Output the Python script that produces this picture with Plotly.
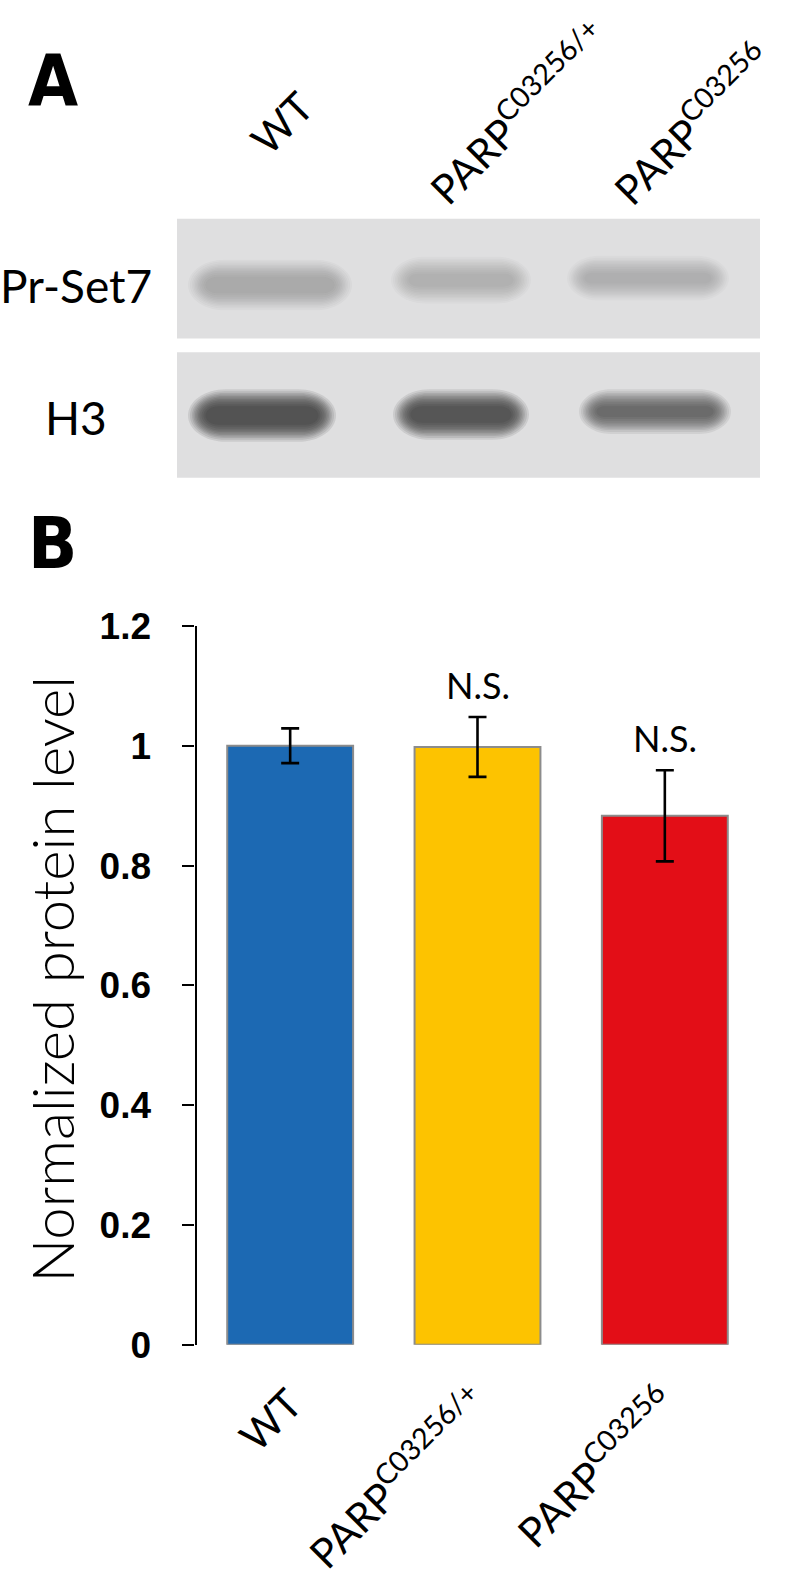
import plotly.graph_objects as go

W, H = 787, 1586

# ---------------- data ----------------
categories = ["WT", "PARP<sup>C03256/+</sup>", "PARP<sup>C03256</sup>"]
values = [1.0, 0.998, 0.883]
errors = [0.029, 0.050, 0.076]
significance = ["", "N.S.", "N.S."]
y_tickvals = [0, 0.2, 0.4, 0.6, 0.8, 1.0, 1.2]
y_ticktext = ["0", "0.2", "0.4", "0.6", "0.8", "1", "1.2"]
y_title = "Normalized protein level"

blot_rows = ["Pr-Set7", "H3"]
prset7_intensity = [0.25, 0.24, 0.18]   # band darkness per lane
h3_intensity = [0.68, 0.66, 0.58]

# ---------------- styles / layout geometry ----------------
bar_colors = ["#1C69B3", "#FDC300", "#E30E17"]
label_font = "Lato"
bold_font = "Liberation Sans"
letter_font = "Liberation Sans Narrow, DejaVu Sans Condensed, Liberation Sans"

def px(x):
    return x / W

def py(y):
    return 1 - y / H

# blot geometry (in panel pixel units on hidden axes x2/y2)
blot_panels = [(177, 760, 204, 327), (177, 760, 341, 470)]
prset7_geom = [(270, 272, 70, 14), (461, 267, 58, 12), (648, 265, 69, 11)]
h3_geom = [(262, 406, 62, 15), (461, 405, 56, 14), (655, 402, 64, 11)]
row_label_pos = [(76, 273), (76, 408)]
lane_label_pos = [(238, 150), (414, 202), (598, 202)]

fig = go.Figure()

# bar chart
fig.add_trace(go.Bar(
    x=[0, 1, 2], y=values,
    marker=dict(color=bar_colors, line=dict(color="#8C8C8C", width=2)),
    error_y=dict(type="data", array=errors, color="black", thickness=2.6, width=9),
    width=0.672,
    showlegend=False, hoverinfo="skip",
))

shapes = []

def stadium(cx, cy, a, b):
    k = 0.5523
    rx = b * 1.4
    x0, x1 = cx - a + rx, cx + a - rx
    return (f"M {x0},{cy-b} L {x1},{cy-b} "
            f"C {x1+k*rx},{cy-b} {x1+rx},{cy-k*b} {x1+rx},{cy} "
            f"C {x1+rx},{cy+k*b} {x1+k*rx},{cy+b} {x1},{cy+b} "
            f"L {x0},{cy+b} "
            f"C {x0-k*rx},{cy+b} {x0-rx},{cy+k*b} {x0-rx},{cy} "
            f"C {x0-rx},{cy-k*b} {x0-k*rx},{cy-b} {x0},{cy-b} Z")

for (x0, x1, y0, y1) in blot_panels:
    shapes.append(dict(type="rect", xref="x2", yref="y2", x0=x0, x1=x1, y0=y0, y1=y1,
                       fillcolor="#DFDFE0", line=dict(width=0), layer="below"))

expansions = [12, 10, 8, 6.5, 5, 3.5, 2, 0.5, -1.5, -3.5, -5.5]
for geom, inten in ((prset7_geom, prset7_intensity), (h3_geom, h3_intensity)):
    for (cx, cy, a, b), I in zip(geom, inten):
        n = len(expansions)
        alpha = 1 - (1 - I) ** (1 / n)
        for e in expansions:
            bb = max(b + e, 2)
            shapes.append(dict(type="path", xref="x2", yref="y2",
                               path=stadium(cx, cy, a + e, bb),
                               fillcolor=f"rgba(25,25,25,{alpha:.4f})",
                               line=dict(width=0), layer="above"))

annotations = []
# panel letters
for letter, (x, y) in (("A", (53, 62)), ("B", (53, 537))):
    annotations.append(dict(text=f"<b>{letter}</b>", x=px(x), y=py(y), xref="paper", yref="paper",
                            xanchor="center", yanchor="middle", showarrow=False,
                            font=dict(family=letter_font, size=72, color="black")))
# row labels
for name, (x, y) in zip(blot_rows, row_label_pos):
    annotations.append(dict(text=name, x=px(x), y=py(y), xref="paper", yref="paper",
                            xanchor="center", yanchor="middle",
                            showarrow=False, font=dict(family=label_font, size=46, color="black")))
# lane labels (top)
for name, (x, y) in zip(categories, lane_label_pos):
    annotations.append(dict(text=name, x=px(x), y=py(y), xref="paper", yref="paper",
                            xanchor="left", yanchor="bottom", textangle=-45,
                            showarrow=False, font=dict(family=label_font, size=41, color="black")))
# y title
annotations.append(dict(text=y_title, x=px(52), y=py(985), xref="paper", yref="paper",
                        xanchor="center", yanchor="middle",
                        textangle=-90, showarrow=False,
                        font=dict(family=label_font, size=58, color="black", weight=300)))
# N.S.
for i, s in enumerate(significance):
    if s:
        annotations.append(dict(text=s, x=i, y=values[i] + errors[i] + 0.054, xref="x", yref="y",
                                xanchor="center", yanchor="middle",
                                showarrow=False, font=dict(family=label_font, size=36, color="black")))

fig.update_layout(
    width=W, height=H,
    margin=dict(l=0, r=0, t=0, b=0),
    paper_bgcolor="white", plot_bgcolor="white",
    shapes=shapes, annotations=annotations,
    xaxis=dict(domain=[px(196.5), px(758.5)], range=[-0.5, 2.5],
               tickvals=[0, 1, 2], ticktext=categories, tickangle=-45,
               showline=False, ticks="", showgrid=False, zeroline=False,
               tickfont=dict(family=label_font, size=41, color="black"),
               ticklabelstandoff=26),
    yaxis=dict(domain=[py(1360), py(622)], range=[0, 1.2],
               tickvals=y_tickvals, ticktext=y_ticktext,
               showline=True, linecolor="black", linewidth=2.2,
               ticks="outside", ticklen=12, tickwidth=2.2, tickcolor="black",
               showgrid=False, zeroline=False,
               tickfont=dict(family=bold_font, size=37, color="black", weight="bold"),
               ticklabelstandoff=24),
    xaxis2=dict(domain=[0, 1], range=[0, W], visible=False, anchor="y2"),
    yaxis2=dict(domain=[py(480), 1], range=[480, 0], visible=False, anchor="x2"),
)

# invisible trace to activate x2/y2
fig.add_trace(go.Scatter(x=[0], y=[0], xaxis="x2", yaxis="y2", mode="markers",
                         marker=dict(opacity=0), showlegend=False, hoverinfo="skip"))

fig.write_html("out.html",
               config={"displayModeBar": False},
               post_script="document.body.style.margin='0';document.body.style.overflow='hidden';")
